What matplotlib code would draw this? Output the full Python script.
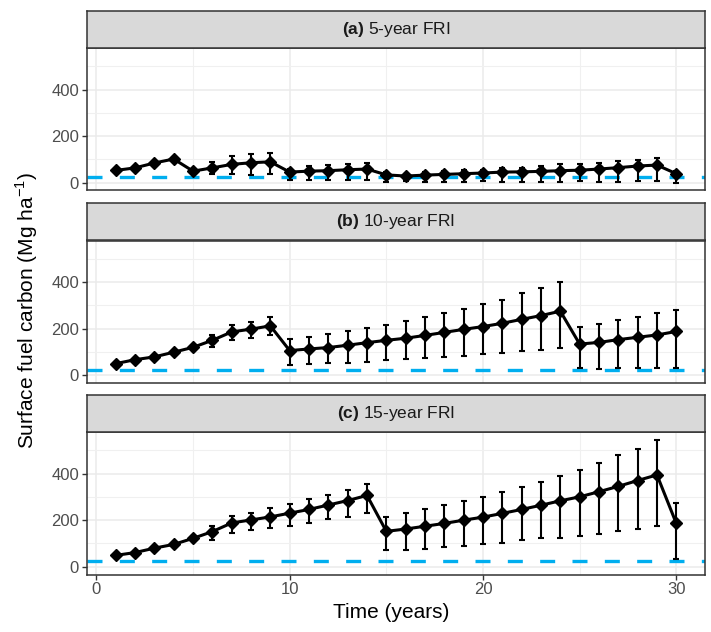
import matplotlib
matplotlib.use("Agg")
import matplotlib.pyplot as plt
import numpy as np

plt.rcParams['font.family'] = ['Liberation Sans', 'DejaVu Sans']
plt.rcParams['mathtext.fontset'] = 'custom'
plt.rcParams['mathtext.rm'] = 'Liberation Sans'
plt.rcParams['mathtext.bf'] = 'Liberation Sans:bold'

# time since start (years)
years = list(range(1, 31))

# (a) 5-year FRI
mean_a = [53, 64, 85, 102, 50, 64, 79, 86, 90, 46, 50, 52, 56, 59, 34,
          29, 33, 36, 39, 42, 46, 47, 49, 52, 54, 59, 65, 72, 76, 39]
low_a = [48, 59, 80, 97, 45, 39, 36, 34, 39, 10, 10, 10, 10, 10, 3,
         7, 3, 3, 3, 6, 2, 3, 3, 3, 6, 3, 3, 7, 6, -1]
up_a = [58, 69, 90, 107, 55, 89, 115, 122, 129, 59, 70, 75, 80, 85, 45,
        39, 46, 50, 53, 56, 63, 65, 70, 79, 82, 86, 92, 99, 106, 49]

# (b) 10-year FRI
mean_b = [50, 67, 79, 99, 120, 150, 186, 198, 212, 106, 113, 119, 129, 140, 150,
          159, 171, 184, 197, 209, 223, 240, 256, 275, 134, 141, 153, 163, 173, 188]
low_b = [45, 62, 74, 94, 113, 122, 150, 162, 173, 44, 47, 54, 54, 59, 65,
         69, 73, 79, 83, 91, 96, 105, 109, 117, 30, 26, 30, 30, 33, 33]
up_b = [55, 72, 84, 104, 127, 173, 216, 229, 248, 155, 165, 176, 191, 202, 216,
        233, 252, 266, 285, 306, 325, 353, 376, 399, 206, 220, 235, 252, 266, 281]

# (c) 15-year FRI
mean_c = [49, 61, 80, 96, 122, 151, 188, 201, 214, 230, 246, 265, 284, 306, 152,
          162, 174, 186, 200, 213, 229, 246, 264, 283, 300, 322, 345, 370, 394, 186]
low_c = [44, 56, 75, 90, 113, 117, 145, 157, 167, 174, 188, 203, 214, 232, 70,
         72, 77, 84, 88, 96, 104, 113, 122, 125, 133, 142, 154, 164, 174, 33]
up_c = [54, 66, 85, 102, 131, 174, 217, 232, 251, 268, 290, 310, 330, 357, 214,
        229, 246, 264, 284, 300, 322, 342, 364, 388, 414, 446, 481, 507, 543, 275]

ref_level = 24   # pre-treatment reference (blue dashed line)

panel_labels = ['(a)', '(b)', '(c)']
panel_titles = ['5-year FRI', '10-year FRI', '15-year FRI']
panels = [(mean_a, low_a, up_a), (mean_b, low_b, up_b), (mean_c, low_c, up_c)]

W, H = 711, 632
fig = plt.figure(figsize=(W / 100, H / 100), dpi=100)

left, right = 86.7, 705.3
plot_tops = [48, 240.5, 432]
plot_h = 142.5
strip_h = 37

for i, (m, lo, hi) in enumerate(panels):
    top = plot_tops[i]
    ax = fig.add_axes([left / W, 1 - (top + plot_h) / H, (right - left) / W, plot_h / H])
    sax = fig.add_axes([left / W, 1 - top / H, (right - left) / W, strip_h / H])

    # strip
    sax.set_facecolor('#D9D9D9')
    sax.set_xticks([])
    sax.set_yticks([])
    for s in sax.spines.values():
        s.set_color('#333333')
        s.set_linewidth(1.1)
    sax.text(0.5, 0.5, r'$\mathbf{' + panel_labels[i] + r'}$ ' + panel_titles[i],
             ha='center', va='center', fontsize=12.5, color='#1A1A1A',
             transform=sax.transAxes)

    m = np.array(m)
    lo = np.array(lo)
    hi = np.array(hi)
    ax.axhline(ref_level, color='#00AEEF', lw=2.4, dashes=(4.5, 5.2), zorder=2)
    ax.errorbar(years, m, yerr=[m - lo, hi - m], fmt='none', ecolor='black',
                elinewidth=1.5, capsize=2, capthick=1.5, zorder=3)
    ax.plot(years, m, color='black', lw=2.2, marker='D', ms=6.5, zorder=4)

    ax.set_xlim(-0.5, 31.5)
    ax.set_ylim(-33, 578)
    ax.set_xticks([0, 10, 20, 30])
    ax.set_xticks([5, 15, 25], minor=True)
    ax.set_yticks([0, 200, 400])
    ax.set_yticks([100, 300, 500], minor=True)
    ax.grid(which='major', color='#EBEBEB', lw=1.1)
    ax.grid(which='minor', color='#F0F0F0', lw=0.8)
    ax.set_axisbelow(True)
    ax.tick_params(which='minor', length=0)
    ax.tick_params(which='major', length=3.5, width=1, color='#333333',
                   labelsize=12, labelcolor='#4D4D4D', pad=2)
    for s in ax.spines.values():
        s.set_color('#333333')
        s.set_linewidth(1.1)
    if i < 2:
        ax.tick_params(axis='x', labelbottom=False, length=0)

fig.text(0.038, 1 - 311 / H, r'Surface fuel carbon (Mg ha$^{-1}$)', rotation=90,
         ha='center', va='center', fontsize=15, color='black')
fig.text(391 / W, 1 - 612 / H, 'Time (years)',
         ha='center', va='center', fontsize=15, color='black')

fig.savefig('out.png', dpi=100)
